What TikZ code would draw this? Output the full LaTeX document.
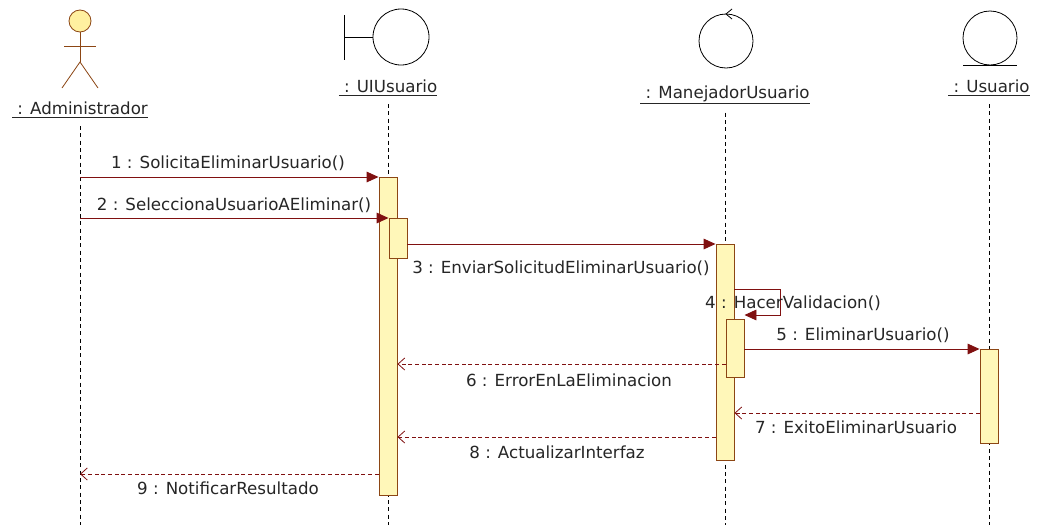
\documentclass[tikz,border=0pt]{standalone}
\usepackage{fontspec}
\setmainfont{DejaVu Sans}
\usetikzlibrary{arrows.meta}
\definecolor{msgred}{RGB}{128,16,16}
\definecolor{barline}{RGB}{140,70,20}
\definecolor{barfill}{RGB}{255,247,185}
\definecolor{headfill}{RGB}{255,240,160}
\begin{document}
\begin{tikzpicture}[x=0.75pt, y=-0.75pt,
        every node/.style={font=\fontsize{12.5}{15}\selectfont, inner sep=0pt, text=black!85},
        bar/.style={draw=barline, fill=barfill, line width=0.7pt, minimum width=13.5pt, anchor=north},
        call/.style={draw=msgred, line width=0.7pt, -{Triangle[length=9pt,width=8pt]}},
        ret/.style={draw=msgred, line width=0.6pt, dash pattern=on 3pt off 2pt, -{Straight Barb[length=5pt,width=9pt]}},
        life/.style={line width=0.6pt, dash pattern=on 3pt off 2.5pt},
        icon/.style={circle, draw, line width=0.6pt}]
        \path[use as bounding box, fill=white] (0,0) rectangle (1038,525);
        \coordinate (bottom) at (0,525);
        % heads
        \node[circle, draw=barline, fill=headfill, line width=0.6pt, minimum size=16.5pt] (head) at (80,21){};
        \draw[barline, line width=0.6pt] (head.south) -- (80,62);
        \draw[barline, line width=0.6pt] (64,46) -- (96,46);
        \draw[barline, line width=0.6pt] (62,88) -- (80,62) -- (98,88);
        \node[icon, minimum size=42pt] (uiIcon) at (401,37){};
        \draw[line width=0.6pt] (344,15) -- (344,60);
        \draw[line width=0.6pt] (344,37) -- (uiIcon.west);
        \node[icon, minimum size=40.5pt] (manIcon) at (726,41){};
        \draw[line width=0.6pt] (732,9) -- (726,14) -- (732,19);
        \node[icon, minimum size=40.5pt] (usIcon) at (990,38){};
        \draw[line width=0.6pt] (963,65) -- (1017,65);
        \node (admin) at (80,110){\underline{\ : Administrador}};
        \node (ui) at (388,88){\underline{\ : UIUsuario}};
        \node (man) at (725,95){\underline{\ : ManejadorUsuario}};
        \node (us) at (989,88){\underline{\ : Usuario}};
        % lifelines
        \draw[life] (admin.south) ++(0,8) -- (admin |- bottom);
        \draw[life] (ui.south) ++(0,8) -- (ui |- bottom);
        \draw[life] (man.south) ++(0,8) -- (man |- bottom);
        \draw[life] (us.south) ++(0,8) -- (us |- bottom);
        % activations
        \node[bar, minimum height=238.5pt] (uiA) at (388,177){};
        \node[bar, minimum height=30pt] (uiB) at (398,218){};
        \node[bar, minimum height=162pt] (manA) at (725,244){};
        \node[bar, minimum height=43.5pt] (manB) at (735,319){};
        \node[bar, minimum height=70.5pt] (usA) at (989,349){};
        % messages
        \draw[call] (admin |- uiA.north) -- (uiA.north west);
        \node (l1) at (228,163){1 : SolicitaEliminarUsuario()};
        \draw[call] (admin |- uiB.north) -- (uiB.north west);
        \node (l2) at (234,205){2 : SeleccionaUsuarioAEliminar()};
        \draw[call] (uiB.east |- manA.north) -- (manA.north west);
        \node (l3) at (561,268){3 : EnviarSolicitudEliminarUsuario()};
        \coordinate (s4a) at (780,289);
        \coordinate (s4b) at (780,315);
        \draw[call] (manA.east |- s4a) -- (s4a) -- (s4b) -- (manB.east |- s4b);
        \node (l4) at (793,303){4 : HacerValidacion()};
        \draw[call] (manB.east |- usA.north) -- (usA.north west);
        \node (l5) at (863,335){5 : EliminarUsuario()};
        \coordinate (r6) at (0,364);
        \draw[ret] (manB.west |- r6) -- (uiA.east |- r6);
        \node (l6) at (569,380){6 : ErrorEnLaEliminacion};
        \coordinate (r7) at (0,413);
        \draw[ret] (usA.west |- r7) -- (manA.east |- r7);
        \node (l7) at (856,427){7 : ExitoEliminarUsuario};
        \coordinate (r8) at (0,437);
        \draw[ret] (manA.west |- r8) -- (uiA.east |- r8);
        \node (l8) at (557,452){8 : ActualizarInterfaz};
        \coordinate (r9) at (0,474);
        \draw[ret] (uiA.west |- r9) -- (admin |- r9);
        \node (l9) at (228,488){9 : NotificarResultado};
\end{tikzpicture}
\end{document}
